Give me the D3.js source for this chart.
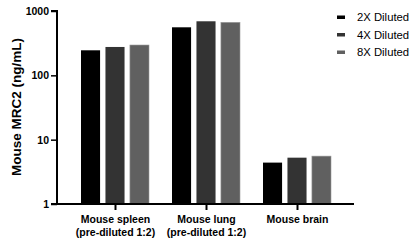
<!DOCTYPE html>
<html>
<head>
<meta charset="utf-8">
<script src="https://cdn.jsdelivr.net/npm/d3@7"></script>
<style>
  body { margin: 0; background: #fff; }
  svg { font-family: "Liberation Sans", Arial, sans-serif; }
</style>
</head>
<body>
<svg id="chart" width="410" height="243"></svg>
<script>
//Categories on the x axis
const samples = ["Mouse spleen|(pre-diluted 1:2)", "Mouse lung|(pre-diluted 1:2)", "Mouse brain"];
//Series names
const series = ["2X Diluted", "4X Diluted", "8X Diluted"];
//Values per series (ng/mL)
const diluted2x = [245, 558, 4.4];
const diluted4x = [276, 692, 5.25];
const diluted8x = [296, 667, 5.55];
//Tick labels for the log axis
const yTicks = [1, 10, 100, 1000];
//Bar colours
const color = ["#000000", "#333333", "#606060"];

const values = [diluted2x, diluted4x, diluted8x];

const chartBox = d3.select("#chart");

const plotLeft = 57, plotRight = 354, plotTop = 11, plotBottom = 204;

//Log scale for y
const yScale = d3.scaleLog()
    .domain([1, 1000])
    .range([plotBottom, plotTop]);

//Group positions
const xScale = d3.scalePoint()
    .domain(samples)
    .range([115, 297]);

//Bars inside a group
const inner = d3.scaleBand()
    .domain(series)
    .range([-34, 34])
    .paddingInner(0.22);

//Draw the bars
samples.forEach((s, i) => {
    chartBox.selectAll(null)
        .data(series)
        .join("rect")
        .attr("x", d => xScale(s) + inner(d))
        .attr("y", (d, j) => yScale(values[j][i]))
        .attr("width", inner.bandwidth())
        .attr("height", (d, j) => plotBottom - yScale(values[j][i]))
        .attr("fill", (d, j) => color[j])
        .attr("stroke", (d, j) => j == 2 ? "#9a9a9a" : "none")
        .attr("stroke-width", 0.6);
});

//Y axis
const yAxis = chartBox.append("g")
    .attr("transform", "translate(" + plotLeft + ",0)")
    .call(d3.axisLeft(yScale).tickValues(yTicks).tickFormat(d3.format("d")).tickSize(6).tickSizeOuter(0));
yAxis.select(".domain").attr("stroke-width", 2).attr("d", "M0," + (plotBottom + 1) + "V" + plotTop + "H-6");
yAxis.selectAll(".tick line").attr("stroke-width", 1.5);
yAxis.selectAll(".tick text")
    .attr("font-size", 10.5)
    .attr("font-weight", "bold")
    .attr("x", -8)
    .attr("fill", "#000");

//X axis
const xAxis = chartBox.append("g")
    .attr("transform", "translate(0," + plotBottom + ")")
    .call(d3.axisBottom(xScale).tickSize(6).tickSizeOuter(0).tickFormat(""));
xAxis.select(".domain").attr("stroke-width", 2).attr("d", "M" + (plotLeft - 6) + ",0H" + plotRight);
xAxis.selectAll(".tick line").attr("stroke-width", 2);

//Multi-line category labels
xAxis.selectAll(".tick").each(function(d) {
    const t = d3.select(this).append("text")
        .attr("text-anchor", "middle")
        .attr("font-size", 10.5)
        .attr("font-weight", "bold")
        .attr("fill", "#000");
    d.split("|").forEach((line, k) => {
        t.append("tspan").attr("x", 0).attr("y", 19 + k * 13).text(line);
    });
});

//Y axis label
chartBox.append("text")
    .attr("transform", "translate(" + 21 + "," + 107 + ") rotate(-90)")
    .attr("text-anchor", "middle")
    .attr("font-size", 13.5)
    .attr("font-weight", "bold")
    .text("Mouse MRC2 (ng/mL)");

//Legend
const legend = chartBox.append("g").attr("transform", "translate(337,17)");
series.forEach((name, j) => {
    const g = legend.append("g").attr("transform", "translate(0," + (j * 17.5) + ")");
    g.append("rect").attr("x", 0).attr("y", -1.5).attr("width", 8).attr("height", 3.5).attr("fill", color[j]);
    g.append("text").attr("x", 20).attr("y", 4).attr("font-size", 11.3).text(name);
});
</script>
</body>
</html>
